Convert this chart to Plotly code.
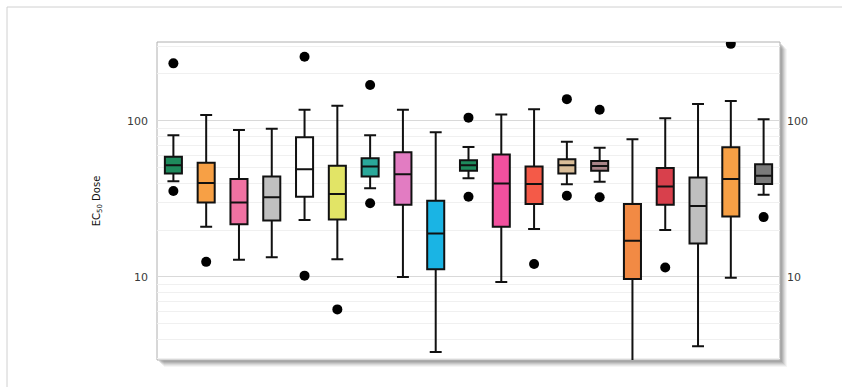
import plotly.graph_objects as go

categories = [f"S{i}" for i in range(1, 20)]
q1 = [46, 30, 21.8, 23, 32.7, 23.4, 44, 29, 11.2, 48, 21, 29.4, 46, 48, 9.7, 29, 16.4, 24.4, 39.4]
median = [52, 40, 30, 32.4, 49, 34, 51, 45.5, 19, 52, 39.8, 39.4, 52, 51.5, 17.1, 38, 28.5, 42.5, 44.6]
q3 = [59, 54, 42.4, 44, 78.6, 51.7, 57.7, 63, 30.8, 56, 61, 51, 56.8, 55.4, 29.4, 50, 43.4, 67.8, 52.7]
lower = [41, 21, 12.9, 13.4, 23.2, 13, 37, 10, 3.3, 43, 9.3, 20.3, 39.3, 40.8, 2.5, 20, 3.6, 9.9, 33.6]
upper = [81, 109, 87.5, 89, 118, 125, 81, 118, 84.6, 68, 110, 119, 73.6, 67.4, 76.3, 104, 128.5, 134, 102.5]
colors = ["#1e8a5c", "#f7a045", "#f072a2", "#c0c0c0", "#ffffff", "#e2e466", "#2aa89a",
          "#e27cc2", "#1ab4e4", "#1e8a5c", "#f2509e", "#f45a48", "#d9bd98", "#a88488",
          "#f28a44", "#d8404c", "#bfbfbf", "#f7a045", "#7a7a7a"]
outlier_cat = ["S1", "S1", "S2", "S5", "S5", "S6", "S7", "S7", "S10", "S10", "S12",
               "S13", "S13", "S14", "S14", "S16", "S18", "S19"]
outlier_val = [234, 35.6, 12.5, 258, 10.2, 6.2, 170, 29.7, 105, 32.7, 12.1,
               138, 33.2, 118, 32.4, 11.5, 312, 24.2]

fig = go.Figure()
for i, c in enumerate(categories):
    fig.add_trace(go.Box(
        x=[c], q1=[q1[i]], median=[median[i]], q3=[q3[i]],
        lowerfence=[lower[i]], upperfence=[upper[i]],
        fillcolor=colors[i], line=dict(color="#111111", width=2),
        width=0.52, whiskerwidth=0.7, showlegend=False, boxpoints=False,
    ))
fig.add_trace(go.Scatter(x=outlier_cat, y=outlier_val, mode="markers",
                         marker=dict(color="#000000", size=10), showlegend=False))
fig.add_trace(go.Scatter(x=[categories[0]], y=[10], yaxis="y2", mode="markers",
                         marker=dict(opacity=0), showlegend=False, hoverinfo="skip"))

yr = [0.468, 2.506]
minor_vals = [3, 4, 5, 6, 7, 8, 9, 20, 30, 40, 50, 60, 70, 80, 90, 200, 300]
W, H = 623, 318
shapes = []
for k, op in [(7, 0.06), (6, 0.08), (5, 0.1), (4, 0.14), (3, 0.16), (2, 0.16)]:
    shapes.append(dict(type="rect", xref="paper", yref="paper", layer="below",
                       x0=k / W, x1=1 + k / W, y0=-k / H, y1=1 - k / H,
                       fillcolor=f"rgba(90,90,90,{op})", line=dict(width=0)))
shapes.append(dict(type="rect", xref="paper", yref="paper", layer="below",
                   x0=0, x1=1, y0=0, y1=1, fillcolor="#ffffff",
                   line=dict(color="#b0b0b0", width=1)))
# outer page frame
shapes.append(dict(type="line", xref="paper", yref="paper", x0=-150 / W, x1=1 + 62 / W,
                   y0=1 + 35 / H, y1=1 + 35 / H, line=dict(color="#d0d0d0", width=1)))
shapes.append(dict(type="line", xref="paper", yref="paper", x0=-150 / W, x1=-150 / W,
                   y0=-27 / H, y1=1 + 35 / H, line=dict(color="#d0d0d0", width=1)))

fig.update_layout(
    width=842, height=387,
    margin=dict(l=157, r=62, t=42, b=27),
    paper_bgcolor="#ffffff", plot_bgcolor="#ffffff",
    font=dict(family="DejaVu Sans", color="#333333", size=10),
    shapes=shapes,
    xaxis=dict(type="category", categoryorder="array", categoryarray=categories,
               range=[-0.5, 18.5], showticklabels=False, showgrid=False,
               zeroline=False, showline=False),
    yaxis=dict(type="log", range=yr, tickvals=[10, 100], ticktext=["10", "100"],
               showgrid=True, gridcolor="#d9d9d9", gridwidth=1, zeroline=False,
               showline=False, ticks="", ticklabelstandoff=8,
               tickfont=dict(size=11, color="#3a3a3a"),
               minor=dict(tickvals=minor_vals, showgrid=True, gridcolor="#f0f0f0", ticks=""),
               title=dict(text="EC<sub>50</sub> Dose", standoff=24,
                          font=dict(size=10, color="#111111"))),
    yaxis2=dict(type="log", range=yr, overlaying="y", side="right",
                tickvals=[10, 100], ticktext=["10", "100"], showgrid=False,
                tickfont=dict(size=11, color="#3a3a3a"),
                zeroline=False, showline=False, ticks="", ticklabelstandoff=6),
)
fig.write_html("out.html", config={"displayModeBar": False},
               post_script="document.body.style.margin='0';document.body.style.overflow='hidden';")
